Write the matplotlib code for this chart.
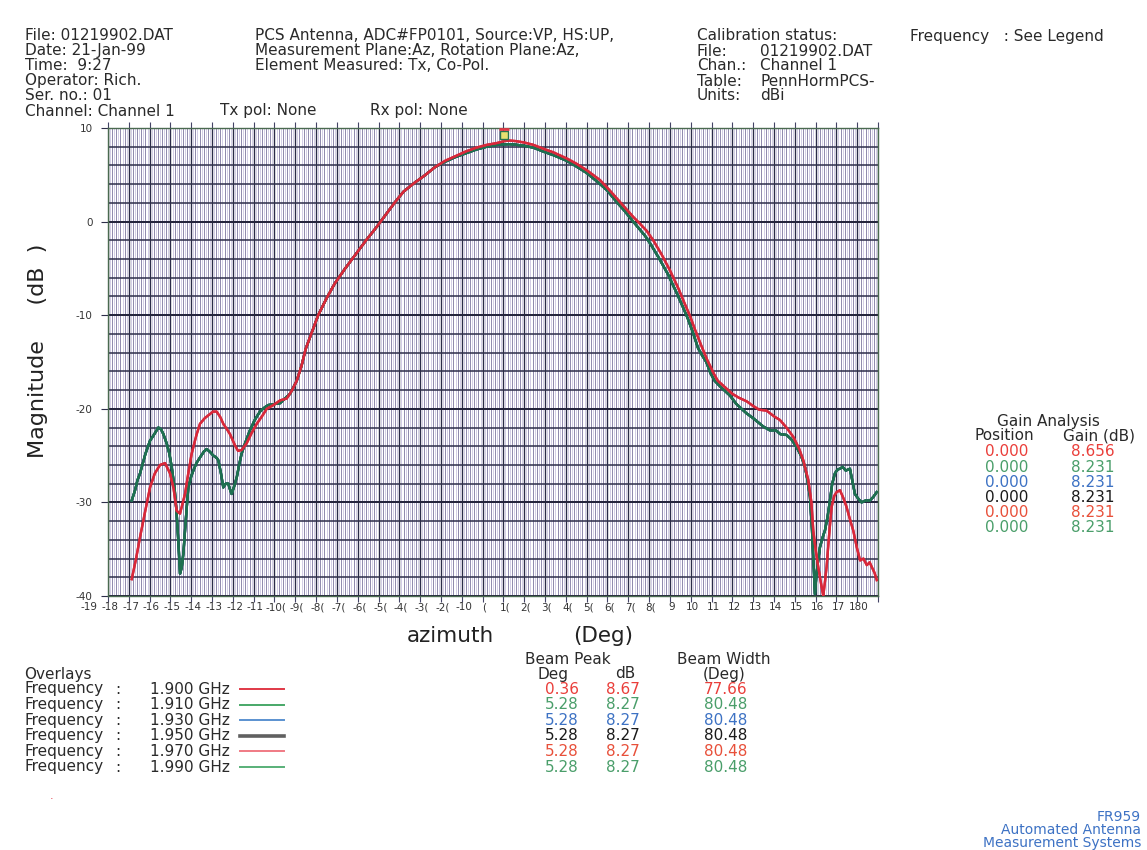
import numpy as np
import matplotlib.pyplot as plt
import matplotlib.transforms as mtransforms

plt.rcParams['font.family'] = ['DejaVu Sans']

W, H = 1147, 850

# pattern measured at 1.900 / 1.970 GHz (red traces)
az_red = [-178.6, -176.5, -174.6, -172, -169.8, -167.5, -165, -162.6, -160.2, -158.5,
          -157, -155.4, -153, -151.5, -149.8, -147.5, -145.8, -143.5, -141.8, -139.5,
          -137.8, -136, -134.6, -132.8, -131.4, -129, -127.5, -125.8, -123.4, -121,
          -118.5, -116, -113.7, -110.5, -107.3, -104.1, -101.5, -99.3, -97, -95,
          -92, -89, -85, -81, -76, -71, -66, -61, -56, -52,
          -48, -43, -38, -33, -28, -23, -18, -13, -8, -3,
          0.36, 3, 6, 10, 14.4, 19, 24, 30.4, 35, 40,
          46.4, 50, 54.4, 58, 62.4, 65.5, 68.9, 72, 76, 80,
          84, 87, 89.7, 92, 95, 98, 101, 103, 106, 110,
          113, 116.9, 120, 123, 126.5, 130, 132.9, 136, 139.3, 142,
          144.1, 146.5, 148, 148.9, 150, 151.3, 152.5, 153.7, 154.5, 155.3,
          156.5, 157.7, 159, 160.1, 161.7, 163.3, 164.9, 166.5, 168.1, 169.8,
          171.4, 173, 174.6, 176, 177, 178.3, 179.4]
mag_red = [-38.2, -36.0, -33.7, -30.8, -28.4, -26.9, -26.0, -25.8, -26.9, -28.5,
           -30.9, -31.2, -29.1, -27.0, -24.8, -22.8, -21.6, -21.0, -20.7, -20.3,
           -20.3, -20.9, -21.6, -22.2, -22.7, -23.9, -24.5, -24.4, -23.7, -22.6,
           -21.6, -20.8, -20.0, -19.6, -19.1, -18.9, -18.0, -17.0, -15.4, -13.6,
           -11.8, -10.0, -8.2, -6.6, -5.0, -3.5, -2.0, -0.6, 0.9, 2.1,
           3.2, 4.1, 4.9, 5.8, 6.5, 7.0, 7.5, 7.9, 8.2, 8.4,
           8.6, 8.66, 8.6, 8.45, 8.2, 7.8, 7.4, 6.75, 6.2, 5.5,
           4.44, 3.6, 2.5, 1.6, 0.5, -0.2, -1.0, -2.0, -3.5, -5.2,
           -7.1, -8.7, -10.1, -11.5, -13.2, -14.8, -16.2, -17.0, -17.6, -18.4,
           -18.8, -19.2, -19.7, -20.1, -20.2, -20.8, -21.2, -22.0, -23.0, -24.2,
           -25.5, -27.6, -30.0, -33.0, -35.0, -36.9, -38.5, -40.0, -38.5, -36.9,
           -33.5, -30.5, -29.3, -28.9, -28.7, -29.5, -30.5, -31.8, -33.0, -34.8,
           -36.2, -36.0, -36.7, -36.4, -36.9, -37.5, -38.3]

# pattern measured at 1.910 / 1.930 / 1.950 / 1.990 GHz (green traces)
az_grn = [-178.6, -177, -175.8, -174.6, -172, -169.8, -168, -165.8, -164.5, -163.4,
          -161.8, -160.5, -159.4, -158, -157, -156, -155.4, -154.6, -153.8, -152.5,
          -151.4, -150, -149, -147.5, -145.8, -144, -142.6, -141, -139.4, -138,
          -137, -135.8, -134.6, -133.4, -132.2, -131.4, -130.6, -129.4, -128.1, -127,
          -125.8, -124, -121.8, -119.5, -117, -115, -113, -110, -107.3, -105,
          -102.5, -99.3, -97, -95, -92, -89, -85, -81, -76, -71,
          -66, -61, -56, -52, -48, -43, -38, -33, -28, -23,
          -18, -13, -8, -3, 0, 3, 5.28, 10, 14.4, 19,
          24, 30.4, 35, 40, 46, 50, 54, 58, 62, 65,
          68, 71, 75, 79, 83, 86, 88.5, 91, 93.5, 95.5,
          97.5, 99.5, 101.5, 104.1, 108.9, 112, 116.9, 120, 124.9, 128.1,
          131, 133, 136.1, 138.5, 140.9, 143, 144.9, 146, 147.3, 148.3,
          149.7, 150.5, 152.1, 153.3, 154.5, 155.8, 156.9, 158, 159.3, 160.5,
          161.7, 163, 164.5, 166.5, 167.5, 168.9, 170.5, 172.1, 174, 176.1,
          177.8, 179.4]
mag_grn = [-29.8, -28.7, -27.6, -26.9, -24.8, -23.4, -22.8, -22.0, -22.2, -22.7,
           -23.7, -24.8, -26.2, -28.5, -31.2, -35.0, -37.6, -37.0, -35.5, -31.5,
           -28.4, -27.2, -26.6, -25.8, -25.2, -24.6, -24.3, -24.6, -25.0, -25.2,
           -25.5, -26.8, -28.4, -28.0, -28.0, -28.6, -29.1, -28.3, -27.3, -26.0,
           -24.8, -23.6, -22.3, -21.2, -20.3, -19.9, -19.6, -19.5, -19.4, -18.9,
           -18.4, -17.0, -15.4, -13.6, -11.8, -10.0, -8.2, -6.6, -5.0, -3.5,
           -2.0, -0.6, 0.9, 2.1, 3.2, 4.1, 4.9, 5.8, 6.4, 6.9,
           7.3, 7.7, 8.0, 8.2, 8.25, 8.27, 8.23, 8.1, 7.9, 7.5,
           7.1, 6.5, 5.9, 5.2, 4.1, 3.3, 2.2, 1.2, 0.1, -0.7,
           -1.5, -2.5, -4.0, -5.6, -7.5, -9.0, -10.3, -11.8, -13.5, -14.3,
           -15.0, -16.2, -17.0, -17.6, -18.6, -19.5, -20.5, -21.0, -21.9, -22.3,
           -22.3, -22.7, -22.8, -23.3, -24.1, -25.0, -26.2, -27.5, -29.4, -33.0,
           -39.8, -37.5, -34.8, -33.8, -33.0, -31.5, -29.8, -28.0, -26.9, -26.5,
           -26.4, -26.2, -26.6, -26.4, -27.5, -29.1, -29.6, -30.0, -29.8, -29.8,
           -29.4, -28.9]

freqs = ['1.900 GHz', '1.910 GHz', '1.930 GHz', '1.950 GHz', '1.970 GHz', '1.990 GHz']
series_az = [az_red, az_grn, az_grn, az_grn, az_red, az_grn]
series_mag = [mag_red, mag_grn, mag_grn, mag_grn, mag_red, mag_grn]
trace_colors = ['#d8283a', '#1e7050', '#2a5aa0', '#1a3a40', '#d8283a', '#1e7050']
key_colors = ['#e03846', '#48a868', '#5a92d0', '#606060', '#f07a84', '#58b078']
text_colors = ['#ea3e3a', '#4a9e6a', '#3d72c4', '#1a1a1a', '#e8503a', '#4a9e6a']
peak_deg = ['0.36', '5.28', '5.28', '5.28', '5.28', '5.28']
peak_db = ['8.67', '8.27', '8.27', '8.27', '8.27', '8.27']
beam_width = ['77.66', '80.48', '80.48', '80.48', '80.48', '80.48']
gain_pos = ['0.000', '0.000', '0.000', '0.000', '0.000', '0.000']
gain_db = ['8.656', '8.231', '8.231', '8.231', '8.231', '8.231']

xtick_vals = list(range(-190, 181, 10))
xtick_text = ['-19', '-18', '-17', '-16', '-15', '-14', '-13', '-12', '-11', '-10(',
              '-9(', '-8(', '-7(', '-6(', '-5(', '-4(', '-3(', '-2(', '-10', '(',
              '1(', '2(', '3(', '4(', '5(', '6(', '7(', '8(', '9', '10',
              '11', '12', '13', '14', '15', '16', '17', '180']
ytick_vals = [10, 0, -10, -20, -30, -40]


def fpos(x, y):
    return x / W, 1 - y / H


fig = plt.figure(figsize=(W / 100, H / 100), dpi=100)
ax = fig.add_axes([108 / W, 1 - 596 / H, 770 / W, 468 / H])
ax.set_xlim(-190, 180)
ax.set_ylim(-40, 10)

# chart-paper grid
for v in np.arange(-190, 181, 1):
    ax.axvline(v, color='#c2badc', lw=0.5, zorder=0)
for v in np.arange(-190, 181, 2):
    ax.axvline(v, color='#857fa4', lw=0.6, zorder=0)
for v in np.arange(-190, 181, 10):
    ax.axvline(v, color='#2a2a48', lw=1.0, zorder=0)
for v in np.arange(-40, 11, 2):
    ax.axhline(v, color='#2e2e4a', lw=1.1, zorder=0)
for v in np.arange(-40, 11, 10):
    ax.axhline(v, color='#24243c', lw=1.4, zorder=0)

for i in [2, 3, 1, 5, 0, 4]:
    ax.plot(series_az[i], series_mag[i], color=trace_colors[i], lw=1.7, zorder=3)

# beam peak marker
ax.plot([float(peak_deg[0])], [9.3], marker='s', ms=6, mfc='#e8e070', mec='#2a7050', zorder=4, clip_on=False)
ax.plot([float(peak_deg[0])], [9.9], marker='_', ms=7, mew=2, color='#e03846', zorder=5, clip_on=False)

# x tick labels sit a little left of their ticks, as printed
ax.set_xticks(xtick_vals)
ax.set_xticklabels([])
lab_tr = mtransforms.blended_transform_factory(ax.transData, ax.transAxes) + \
    mtransforms.ScaledTranslation(-0.19, 0, fig.dpi_scale_trans)
for v, t in zip(xtick_vals, xtick_text):
    ax.text(v, -0.013, t, transform=lab_tr, fontsize=7.5, color='#333333',
            ha='center', va='top', clip_on=False)
ax.set_yticks(ytick_vals)
ax.set_yticklabels([str(v) for v in ytick_vals], fontsize=7.5, color='#333333')
ax.tick_params(axis='x', top=True, direction='out', length=4, color='#444466', pad=3)
ax.tick_params(axis='y', direction='out', length=5, color='#2e2e4a', pad=6)
for s in ax.spines.values():
    s.set_color('#4a6a50')
    s.set_linewidth(1.0)

fig.text(*fpos(450, 636), 'azimuth', fontsize=15.5, ha='center', va='center', color='#222222')
fig.text(*fpos(603, 636), '(Deg)', fontsize=15.5, ha='center', va='center', color='#222222')
fig.text(*fpos(38, 351), 'Magnitude     (dB  )', fontsize=16, ha='center', va='center',
         rotation=90, color='#222222')

# header
fs = 11
tc = '#2a2a2a'
left_lines = ['File: 01219902.DAT', 'Date: 21-Jan-99', 'Time:  9:27', 'Operator: Rich.',
              'Ser. no.: 01', 'Channel: Channel 1']
for k, t in enumerate(left_lines):
    fig.text(*fpos(25, 35 + 15.2 * k), t, fontsize=fs, va='center', color=tc)
fig.text(*fpos(220, 111), 'Tx pol: None', fontsize=fs, va='center', color=tc)
fig.text(*fpos(370, 111), 'Rx pol: None', fontsize=fs, va='center', color=tc)
mid_lines = ['PCS Antenna, ADC#FP0101, Source:VP, HS:UP,',
             'Measurement Plane:Az, Rotation Plane:Az,',
             'Element Measured: Tx, Co-Pol.']
for k, t in enumerate(mid_lines):
    fig.text(*fpos(255, 35 + 15.2 * k), t, fontsize=fs, va='center', color=tc)
fig.text(*fpos(697, 36), 'Calibration status:', fontsize=fs, va='center', color=tc)
cal = [('File:', '01219902.DAT'), ('Chan.:', 'Channel 1'), ('Table:', 'PennHormPCS-'),
       ('Units:', 'dBi')]
for k, (a, b) in enumerate(cal):
    fig.text(*fpos(697, 51 + 15 * k), a, fontsize=fs, va='center', color=tc)
    fig.text(*fpos(760, 51 + 15 * k), b, fontsize=fs, va='center', color=tc)
fig.text(*fpos(910, 37), 'Frequency   : See Legend', fontsize=fs, va='center', color=tc)

# gain analysis
fig.text(*fpos(1048, 421), 'Gain Analysis', fontsize=fs, ha='center', va='center', color=tc)
fig.text(*fpos(1004, 436), 'Position', fontsize=fs, ha='center', va='center', color=tc)
fig.text(*fpos(1099, 436), 'Gain (dB)', fontsize=fs, ha='center', va='center', color=tc)
for k in range(6):
    y = 452 + 15.2 * k
    fig.text(*fpos(1007, y), gain_pos[k], fontsize=fs, ha='center', va='center', color=text_colors[k])
    fig.text(*fpos(1093, y), gain_db[k], fontsize=fs, ha='center', va='center', color=text_colors[k])

# overlays table
fig.text(*fpos(24, 674), 'Overlays', fontsize=fs, va='center', color=tc)
fig.text(*fpos(568, 660), 'Beam Peak', fontsize=fs, ha='center', va='center', color=tc)
fig.text(*fpos(553, 674), 'Deg', fontsize=fs, ha='center', va='center', color=tc)
fig.text(*fpos(625, 674), 'dB', fontsize=fs, ha='center', va='center', color=tc)
fig.text(*fpos(724, 660), 'Beam Width', fontsize=fs, ha='center', va='center', color=tc)
fig.text(*fpos(724, 674), '(Deg)', fontsize=fs, ha='center', va='center', color=tc)
for k in range(6):
    y = 689 + 15.6 * k
    fig.text(*fpos(24, y), 'Frequency', fontsize=fs, va='center', color=tc)
    fig.text(*fpos(115, y), ':', fontsize=fs, va='center', color=tc)
    fig.text(*fpos(150, y), freqs[k], fontsize=fs, va='center', color=tc)
    x0, y0 = fpos(240, y)
    x1, _ = fpos(284, y)
    fig.add_artist(plt.Line2D([x0, x1], [y0, y0], color=key_colors[k],
                              lw=2.6 if k == 3 else 1.4, transform=fig.transFigure))
    fig.text(*fpos(562, y), peak_deg[k], fontsize=fs, ha='center', va='center', color=text_colors[k])
    fig.text(*fpos(623, y), peak_db[k], fontsize=fs, ha='center', va='center', color=text_colors[k])
    fig.text(*fpos(726, y), beam_width[k], fontsize=fs, ha='center', va='center', color=text_colors[k])

fig.text(*fpos(52, 796), '.', fontsize=8, ha='center', va='center', color='#e03846')

# vendor mark
fig.text(*fpos(1141, 830), 'FR959\nAutomated Antenna\nMeasurement Systems', fontsize=10,
         ha='right', va='center', multialignment='right', linespacing=0.95, color='#3d72c4')

fig.savefig('out.png', dpi=100)
